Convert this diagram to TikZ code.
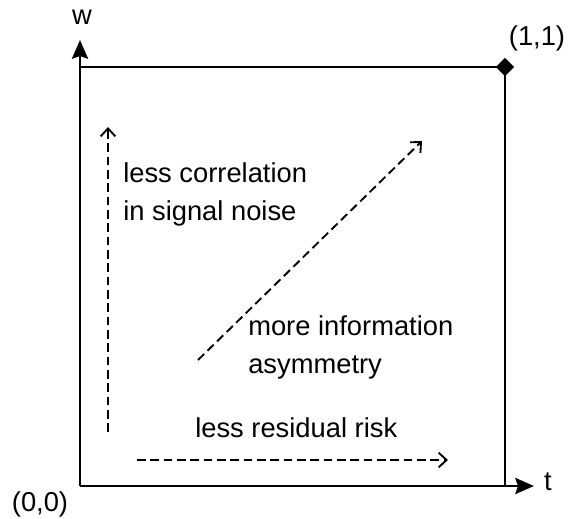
\documentclass[tikz,border=0pt]{standalone}
\usepackage{fontspec}
\setmainfont{Liberation Sans}
\usetikzlibrary{arrows.meta,shapes.geometric}
\begin{document}
\begin{tikzpicture}[x=0.75pt,y=-0.75pt,
  axis/.style={line width=2pt,-{Stealth[length=14pt,width=12pt,inset=2pt]}},
  frame/.style={line width=2pt},
  darrow/.style={line width=1.4pt,dash pattern=on 6.5pt off 3.5pt,-{Straight Barb[length=6pt,width=11pt,line width=1.4pt]}},
  lbl/.style={font=\fontsize{20.5pt}{24pt}\selectfont,inner sep=0pt},
  txt/.style={lbl,anchor=base west}]
\useasboundingbox (0,0) rectangle (568,518);
\coordinate (O) at (80,486);
\coordinate (Wend) at (80,40);
\coordinate (Tend) at (534,486);
\coordinate (TL) at (80,67);
\coordinate (TR) at (505,67);
\coordinate (BR) at (505,486);
\draw[frame] (TL) -- (TR) -- (BR);
\draw[axis] (O) -- (Wend);
\draw[axis] (O) -- (Tend);
\node[diamond,fill=black,inner sep=0pt,minimum size=14pt] (corner) at (TR) {};
\node[lbl] (wlab) at (82,17) {w};
\node[lbl] (tlab) at (548,482) {t};
\node[lbl] (onelab) at (537,38) {(1,1)};
\node[lbl] (zerolab) at (40,504) {(0,0)};
\coordinate (v1) at (108,432);
\coordinate (v2) at (108,127);
\coordinate (d1) at (198,360);
\coordinate (d2) at (422,141);
\coordinate (h1) at (137,460);
\coordinate (h2) at (448,460);
\draw[darrow] (v1) -- (v2);
\draw[darrow] (d1) -- (d2);
\draw[darrow] (h1) -- (h2);
\node[txt] (c1) at (123,182) {less correlation};
\node[txt] (c2) at (123,220) {in signal noise};
\node[txt] (m1) at (248,335) {more information};
\node[txt] (m2) at (248,373) {asymmetry};
\node[txt] (r1) at (195,437) {less residual risk};
\end{tikzpicture}
\end{document}
